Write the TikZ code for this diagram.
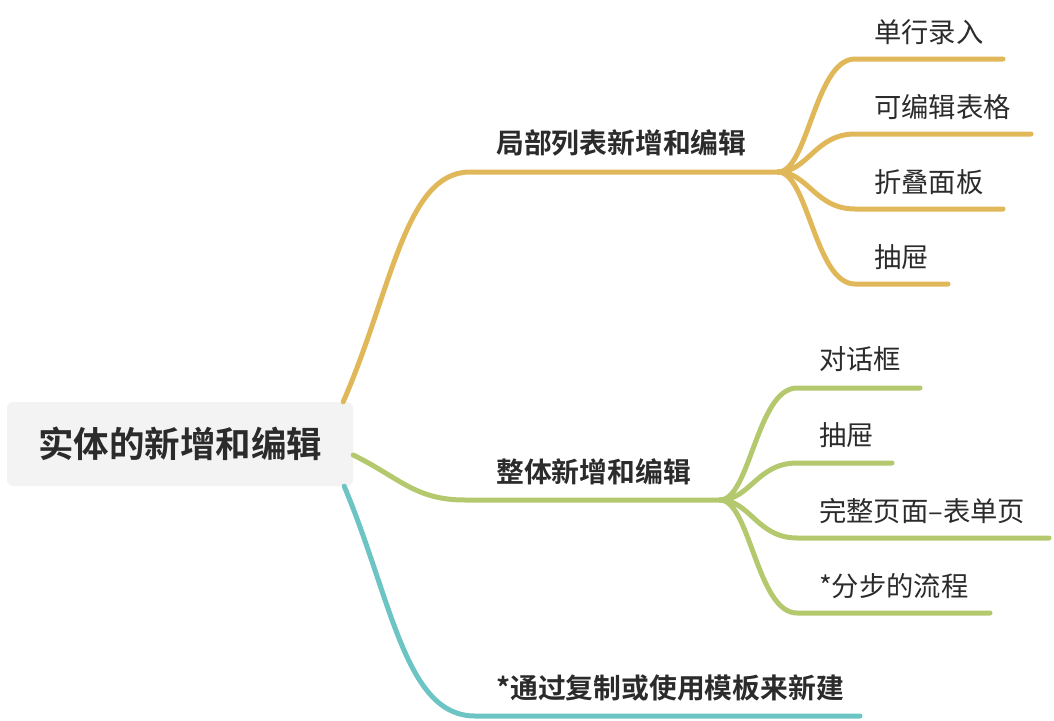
\documentclass[tikz,border=0pt]{standalone}
\usepackage{fontspec}
\setmainfont{Noto Sans CJK SC}[BoldFont={* Bold}]
\usepackage{xcolor}
\usetikzlibrary{positioning}
\definecolor{ylw}{HTML}{E0B85A}
\definecolor{grn}{HTML}{B4C96E}
\definecolor{teal2}{HTML}{6CC5C4}
\definecolor{rootgray}{HTML}{F3F3F3}
\definecolor{ink}{HTML}{2B2B2B}

\begin{document}
\begin{tikzpicture}[x=1pt, y=-1pt,
  rootbox/.style={rectangle, fill=rootgray, rounded corners=6pt, minimum width=346pt, minimum height=84pt, inner sep=0pt, font=\fontsize{35.5}{40}\selectfont\bfseries, text=ink},
  topic/.style={anchor=west, inner sep=0pt, font=\fontsize{27.8}{32}\selectfont\bfseries, text=ink},
  leaf/.style={anchor=west, inner sep=0pt, font=\fontsize{27.3}{32}\selectfont, text=ink},
  branch/.style={line width=5pt, line cap=round}]

\useasboundingbox (0,0) rectangle (1054,720);

% Central topic
\node[rootbox] (root) at (180,444) {实体的新增和编辑};

% Main topics
\node[topic] (local) at (496,143) {局部列表新增和编辑};
\node[topic] (whole) at (496,472) {整体新增和编辑};
\node[topic] (copy) at (496,688) {*通过复制或使用模板来新建};

% Subtopics of local
\node[leaf] (single) at (874,32) {单行录入};
\node[leaf] (table) at (874,107) {可编辑表格};
\node[leaf] (fold) at (874,182) {折叠面板};
\node[leaf] (drawA) at (874,257) {抽屉};

% Subtopics of whole
\node[leaf] (dialog) at (819,359) {对话框};
\node[leaf] (drawB) at (819,435) {抽屉};
\node[leaf] (page) at (819,511) {完整页面–表单页};
\node[leaf] (steps) at (819,586) {*分步的流程};

% Line ends
\coordinate (f1) at (778,172);
\coordinate (f2) at (720,500);
\coordinate (copyend) at (860,716);

% Main branches
\draw[branch, ylw] ([xshift=-10pt]root.north east) .. controls (392,290) and (405,172) .. (470,172) -- (f1);
\draw[branch, grn] ([yshift=-11pt]root.east) .. controls (400,478) and (415,500) .. (465,500) -- (f2);
\draw[branch, teal2] ([xshift=-9pt]root.south east) .. controls (392,600) and (405,716) .. (475,716) -- (copyend);

% Branches of local
\draw[branch, ylw] (f1) .. controls (808,172) and (815,59) .. (855,59) -- (1003,59);
\draw[branch, ylw] (f1) .. controls (808,172) and (815,134) .. (855,134) -- (1031,134);
\draw[branch, ylw] (f1) .. controls (808,172) and (815,209) .. (855,209) -- (1003,209);
\draw[branch, ylw] (f1) .. controls (808,172) and (815,284) .. (855,284) -- (948,284);

% Branches of whole
\draw[branch, grn] (f2) .. controls (750,500) and (757,388) .. (797,388) -- (920,388);
\draw[branch, grn] (f2) .. controls (750,500) and (757,463) .. (797,463) -- (892,463);
\draw[branch, grn] (f2) .. controls (750,500) and (757,538) .. (797,538) -- (1049,538);
\draw[branch, grn] (f2) .. controls (750,500) and (757,613) .. (797,613) -- (990,613);

\end{tikzpicture}
\end{document}
